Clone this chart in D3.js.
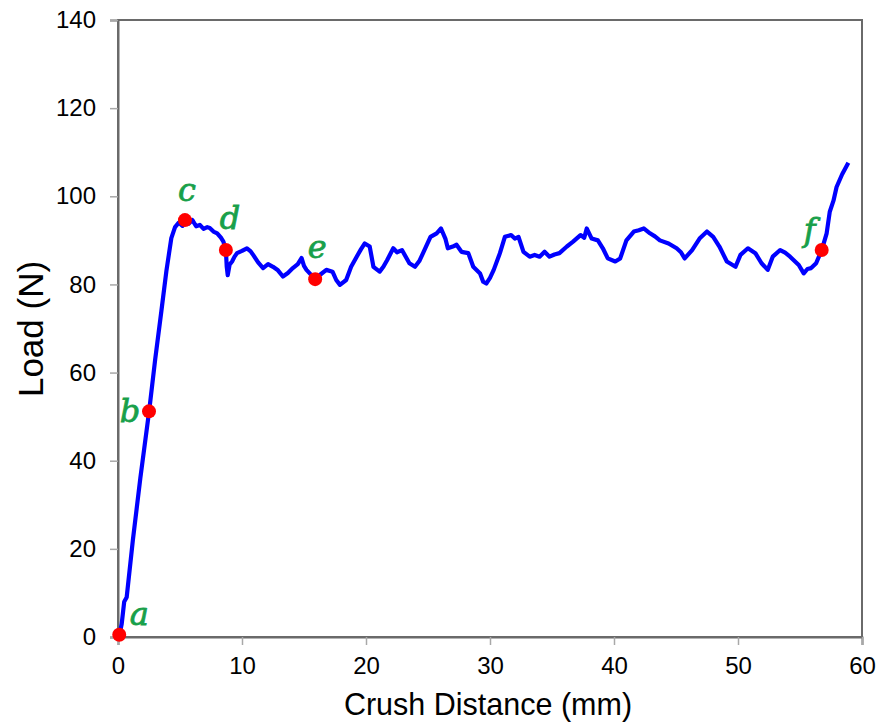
<!DOCTYPE html>
<html>
<head>
<meta charset="utf-8">
<script src="https://cdn.jsdelivr.net/npm/d3@7"></script>
<style>
  body { margin: 0; background: #fff; }
  svg { display: block; font-family: "Liberation Sans", Arial, sans-serif; }
</style>
</head>
<body>
<svg id="chart" width="882" height="725"></svg>
<script>
// crush curve (mm, N)
const crushX = [0.1, 0.3, 0.5, 0.7, 1.2, 1.8, 2.5, 3.0, 3.5, 3.9, 4.3, 4.6, 4.9, 5.2, 5.4, 5.7, 6.0, 6.3, 6.6, 6.9,
  7.2, 7.4, 7.7, 8.0, 8.3, 8.5, 8.7, 8.77, 8.85, 9.0, 9.2, 9.4, 9.6, 10.0, 10.4, 10.7, 10.9, 11.3, 11.7, 12.1,
  12.5, 12.9, 13.3, 13.7, 14.1, 14.5, 14.8, 15.0, 15.2, 15.5, 15.9, 16.3, 16.8, 17.3, 17.6, 17.9, 18.4, 18.8, 19.25, 19.6,
  19.9, 20.3, 20.6, 21.1, 21.4, 21.7, 22.2, 22.5, 22.9, 23.5, 23.95, 24.3, 24.6, 25.2, 25.7, 26.05, 26.4, 26.6, 27.0, 27.3,
  27.7, 28.25, 28.65, 29.2, 29.45, 29.7, 30.0, 30.3, 30.8, 31.2, 31.7, 32.0, 32.3, 32.7, 33.2, 33.6, 34.0, 34.4, 34.8, 35.2,
  35.6, 36.2, 36.7, 37.3, 37.6, 37.8, 38.2, 38.7, 39.1, 39.5, 40.1, 40.5, 41.0, 41.6, 42.0, 42.4, 42.9, 43.3, 43.7, 44.4,
  45.05, 45.4, 45.7, 46.3, 46.9, 47.5, 48.0, 48.5, 49.1, 49.8, 50.2, 50.8, 51.4, 51.9, 52.4, 52.8, 53.4, 53.8, 54.2, 54.9,
  55.3, 55.6, 55.9, 56.3, 56.75, 57.15, 57.4, 57.7, 57.95, 58.4, 58.9];
const loadY = [0.2, 3, 8, 9, 22, 36, 51, 63, 74, 83, 90.5, 93, 94, 93.3, 94.6, 93.8, 94.6, 93.2, 93.5, 92.6,
  93.0, 92.8, 92.0, 91.6, 90.6, 89.7, 87.8, 84.0, 82.1, 84.5, 85.2, 86.3, 87.1, 87.6, 88.2, 87.5, 86.7, 85.0, 83.7, 84.6,
  84.0, 83.2, 81.8, 82.6, 83.7, 84.6, 86.0, 84.2, 83.3, 82.4, 81.2, 82.2, 83.3, 82.9, 81.0, 79.9, 81.0, 84.0, 86.3, 88.0,
  89.3, 88.6, 84.0, 82.9, 84.0, 85.5, 88.2, 87.3, 87.8, 84.8, 84.0, 85.3, 87.1, 90.8, 91.6, 92.7, 90.4, 88.2, 88.6, 89.0,
  87.4, 87.1, 84.0, 82.5, 80.6, 80.2, 81.5, 83.3, 87.1, 90.8, 91.2, 90.4, 90.8, 87.4, 86.3, 86.7, 86.3, 87.4, 86.3, 86.8,
  87.1, 88.6, 89.7, 91.2, 90.6, 92.7, 90.4, 90.0, 88.2, 85.9, 85.2, 85.9, 90.0, 92.0, 92.3, 92.7, 91.6, 90.9, 90.0, 89.3,
  88.2, 87.3, 85.9, 87.8, 90.4, 92.0, 90.8, 88.6, 85.2, 84.0, 86.7, 88.2, 87.1, 84.8, 83.3, 86.3, 87.8, 87.2, 86.3, 84.4,
  82.5, 83.5, 83.7, 84.8, 87.8, 91.6, 96.5, 99.0, 102.1, 105.0, 107.6];

// marked points a-f
const markNames = ["a", "b", "c", "d", "e", "f"];
const markX = [0.1, 2.5, 5.4, 8.7, 15.9, 56.75];
const markY = [0.5, 51.2, 94.6, 87.8, 81.2, 87.8];

const xTicks = [0, 10, 20, 30, 40, 50, 60];
const yTicks = [0, 20, 40, 60, 80, 100, 120, 140];

const MARGIN = { left: 118, top: 20, right: 20, bottom: 88 };
const WIDTH = 882, HEIGHT = 725;
const AXIS_COLOR = "#6a6a6a";
const LINE_COLOR = "#0000ff";
const DOT_COLOR = "#ff0000";
const LABEL_COLOR = "#18a04a";

// label offsets from each dot (px)
const LABEL_OFFSETS = [[20, -10], [-19, 11], [2, -19], [4, -21], [2, -21], [-12, -9]];

const svg = d3.select("#chart");
const x = d3.scaleLinear().domain([0, 60]).range([MARGIN.left, WIDTH - MARGIN.right]);
const y = d3.scaleLinear().domain([0, 140]).range([HEIGHT - MARGIN.bottom, MARGIN.top]);

// frame
svg.append("rect")
  .attr("x", x(0)).attr("y", y(140))
  .attr("width", x(60) - x(0)).attr("height", y(0) - y(140))
  .attr("fill", "none").attr("stroke", AXIS_COLOR).attr("stroke-width", 2);

// axes
const xAxis = svg.append("g")
  .attr("transform", `translate(0,${y(0)})`)
  .call(d3.axisBottom(x).tickValues(xTicks).tickSize(8).tickPadding(12));
const yAxis = svg.append("g")
  .attr("transform", `translate(${x(0)},0)`)
  .call(d3.axisLeft(y).tickValues(yTicks).tickSize(8).tickPadding(14));

[xAxis, yAxis].forEach(g => {
  g.select(".domain").attr("stroke", AXIS_COLOR).attr("stroke-width", 2);
  g.selectAll(".tick line").attr("stroke", "#a8a8a8").attr("stroke-width", 1.5);
  g.selectAll(".tick text")
    .attr("fill", "#000")
    .style("font-size", "24px")
    .style("font-family", "'Liberation Sans', Arial, sans-serif");
});

// titles
svg.append("text")
  .attr("x", 488).attr("y", 715)
  .attr("text-anchor", "middle")
  .style("font-size", "30.5px")
  .text("Crush Distance (mm)");
svg.append("text")
  .attr("transform", `translate(43,329) rotate(-90)`)
  .attr("text-anchor", "middle")
  .style("font-size", "35px")
  .text("Load (N)");

// curve
const line = d3.line().x(d => x(d[0])).y(d => y(d[1]));
svg.append("path")
  .datum(d3.zip(crushX, loadY))
  .attr("d", line)
  .attr("fill", "none")
  .attr("stroke", LINE_COLOR)
  .attr("stroke-width", 4.2)
  .attr("stroke-linejoin", "round");

// marked points
const marks = markNames.map((n, i) => ({ name: n, x: markX[i], y: markY[i], off: LABEL_OFFSETS[i] }));
svg.selectAll(".dot")
  .data(marks)
  .enter()
  .append("circle")
  .attr("class", "dot")
  .attr("cx", d => x(d.x)).attr("cy", d => y(d.y))
  .attr("r", 7)
  .attr("fill", DOT_COLOR);

svg.selectAll(".mark-label")
  .data(marks)
  .enter()
  .append("text")
  .attr("class", "mark-label")
  .attr("x", d => x(d.x) + d.off[0])
  .attr("y", d => y(d.y) + d.off[1])
  .attr("text-anchor", "middle")
  .attr("fill", LABEL_COLOR)
  .attr("stroke", LABEL_COLOR)
  .attr("stroke-width", 0.8)
  .style("font-family", "'DejaVu Serif', 'Liberation Serif', serif")
  .style("font-style", "italic")
  .style("font-size", "32px")
  .text(d => d.name);
</script>
</body>
</html>
